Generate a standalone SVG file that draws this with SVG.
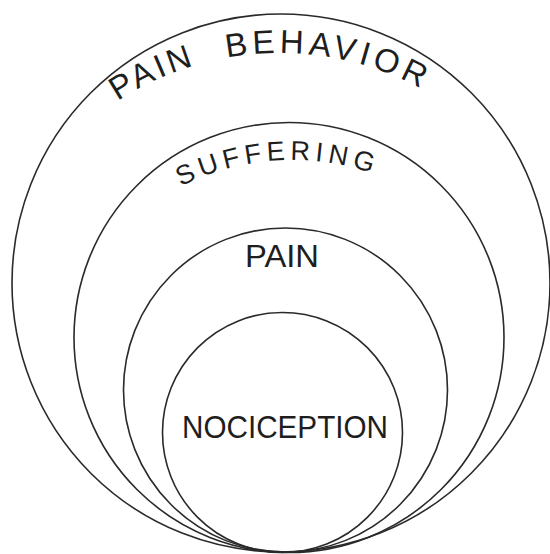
<svg xmlns="http://www.w3.org/2000/svg" width="550" height="554" viewBox="0 0 550 554">
  <style>
    .ring { fill: none; stroke: #2a2a2a; stroke-width: 1.6; }
    .lbl { font-family: "Liberation Sans", Arial, sans-serif; fill: #1e1e1e; }
  </style>
  <defs>
    <path id="arcBehavior" d="M117.7,101.1 A298,298 0 0 1 419.9,87.9"/>
    <path id="arcSuffering" d="M180.9,186.3 A248,248 0 0 1 371.9,173.2"/>
  </defs>
  <rect width="550" height="554" fill="#ffffff"/>
  <g id="connectors"></g>
  <g id="pain-behavior">
    <circle class="ring" cx="281" cy="283" r="269"/>
    <text class="lbl" font-size="33"><textPath href="#arcBehavior" textLength="84" lengthAdjust="spacing">PAIN</textPath></text>
    <text class="lbl" font-size="33"><textPath href="#arcBehavior" startOffset="118" textLength="200" lengthAdjust="spacing">BEHAVIOR</textPath></text>
  </g>
  <g id="suffering">
    <circle class="ring" cx="289" cy="337.5" r="215"/>
    <text class="lbl" font-size="27"><textPath href="#arcSuffering" textLength="196" lengthAdjust="spacing">SUFFERING</textPath></text>
  </g>
  <g id="pain">
    <circle class="ring" cx="285.5" cy="390" r="162"/>
    <text class="lbl" font-size="32" x="282" y="267" text-anchor="middle" textLength="74" lengthAdjust="spacingAndGlyphs">PAIN</text>
  </g>
  <g id="nociception">
    <circle class="ring" cx="282.5" cy="432.5" r="120"/>
    <text class="lbl" font-size="31" x="285" y="438" text-anchor="middle" textLength="206" lengthAdjust="spacingAndGlyphs">NOCICEPTION</text>
  </g>
</svg>
